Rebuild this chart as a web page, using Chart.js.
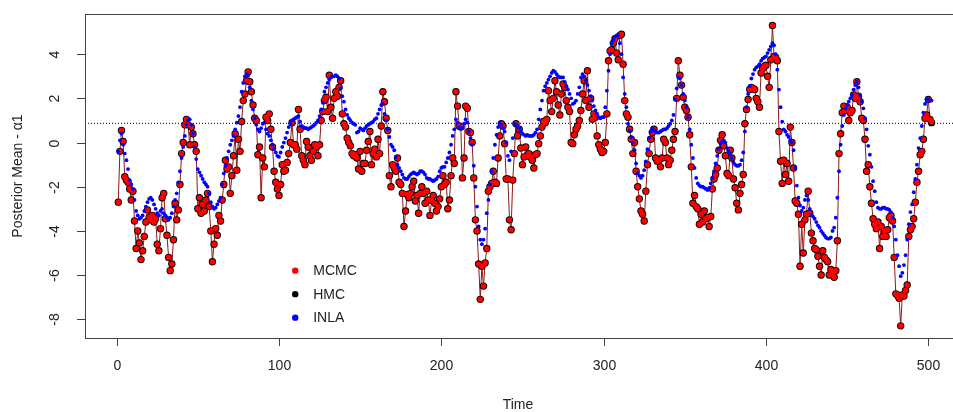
<!DOCTYPE html>
<html>
<head>
<meta charset="utf-8">
<script src="https://cdn.jsdelivr.net/npm/chart.js@4.4.1/dist/chart.umd.min.js"></script>
<style>
html,body{margin:0;padding:0;background:#fff;overflow:hidden;}
#wrap{width:968px;height:412px;}
</style>
</head>
<body>
<div id="wrap"><canvas id="c" width="968" height="412"></canvas></div>
<script>
// ---- data ----
const xTickLabels = [0, 100, 200, 300, 400, 500];
const yTickLabels = [-8, -6, -4, -2, 0, 2, 4];
const refLevel = 0.87;
const legendLabels = ['MCMC', 'HMC', 'INLA'];

const mcmc = [
-2.7,-0.4,0.55,0.05,-1.55,-1.7,-1.8,-2.1,-2.6,-2.2,
-3.55,-4.8,-4.0,-4.55,-5.3,-4.9,-4.25,-3.6,-3.05,-3.4,
-3.5,-3.3,-3.6,-3.45,-4.6,-4.9,-3.9,-2.5,-2.3,-3.45,
-4.2,-5.2,-5.8,-5.5,-4.4,-2.75,-3.5,-3.05,-1.9,-0.5,
0.0,0.8,1.05,0.8,-0.1,0.7,0.4,-0.1,-0.4,-3.0,
-2.5,-3.2,-2.8,-3.1,-2.6,-2.3,-2.9,-4.0,-5.4,-4.6,
-3.9,-4.2,-3.3,-3.55,-2.6,-1.9,-0.8,-1.2,-1.1,-2.3,
-1.5,-0.6,0.4,-1.25,0.15,-0.4,0.95,1.9,2.2,2.8,
3.2,2.75,2.3,1.7,1.1,1.0,-0.55,-0.2,-2.5,-0.7,
-1.1,1.15,1.0,1.3,0.6,-0.2,-1.3,-1.8,-2.1,-2.4,
-1.9,-1.0,-1.3,-1.25,-0.9,-0.5,0.0,0.9,-0.1,-0.1,
-0.3,1.5,0.6,-0.6,-0.8,-1.0,0.05,-0.2,-0.6,-0.8,
-0.4,-0.1,-0.2,-0.6,-0.1,1.0,1.4,1.9,2.05,1.4,
3.05,1.6,1.1,2.0,2.3,2.1,2.5,2.8,1.3,0.85,
0.7,0.2,0.0,-0.15,-0.5,-0.6,-0.55,-0.7,-1.2,-0.4,
-1.3,-0.95,-0.95,-0.35,0.05,0.5,-1.0,-0.5,-0.3,-0.65,
0.15,-0.5,0.75,2.3,1.85,1.1,0.55,-1.5,-2.0,-1.0,
-1.15,-1.3,-0.7,-1.8,-1.9,-2.3,-3.8,-3.1,-2.35,-2.5,
-2.3,-2.0,-1.75,-2.65,-2.4,-3.2,-2.3,-2.0,-2.3,-2.75,
-2.2,-2.6,-3.3,-2.6,-2.4,-2.75,-3.1,-2.9,-2.55,-2.0,
-1.5,-1.9,-1.8,-3.0,-2.6,-1.5,-0.7,-0.95,2.3,1.65,
0.75,0.7,-1.6,-0.7,1.65,1.55,0.5,0.45,0.0,-1.6,
-3.5,-4.0,-5.5,-7.1,-5.6,-6.5,-5.45,-4.8,-2.2,-2.0,
-1.85,-1.3,-1.8,-1.85,-0.7,0.3,0.85,0.75,-0.05,-1.65,
-1.65,-3.5,-3.95,-1.7,-0.5,0.85,0.3,0.6,-0.25,-1.0,
-0.65,-0.2,-0.6,-0.5,-0.65,-0.8,-1.15,-0.55,-0.5,-0.05,
0.3,0.7,0.95,0.9,1.05,2.35,1.9,1.4,2.0,2.8,
2.3,1.7,1.25,2.2,2.65,2.5,1.9,1.6,1.4,0.0,
-0.05,0.35,0.6,0.75,1.0,1.45,2.2,2.8,1.9,3.25,
1.6,2.0,1.05,1.3,1.15,0.3,-0.1,-0.3,-0.45,-0.4,
0.0,1.3,3.7,4.15,4.2,4.5,4.7,4.05,3.75,4.85,
4.9,3.55,1.9,1.3,1.15,0.6,0.15,-0.5,0.0,-1.3,
-2.0,-2.55,-3.1,-3.25,-3.55,-2.2,-1.0,-0.5,0.15,0.45,
0.6,-0.7,-0.85,-0.8,-1.1,-0.7,0.15,0.0,-0.7,-1.0,
-0.8,-0.35,0.15,0.5,2.0,3.7,3.05,2.6,2.05,1.6,
1.45,1.15,0.35,-1.1,-2.75,-2.4,-2.9,-3.0,-3.7,-3.25,
-3.6,-3.1,-3.45,-3.4,-3.8,-3.35,-2.1,-1.65,-1.45,-1.15,
-0.35,0.1,0.35,-0.15,-0.6,-1.4,-1.5,-0.35,-0.7,-1.65,
-2.05,-2.75,-3.05,-2.3,-1.9,-1.45,0.85,1.5,1.95,2.4,
2.5,2.45,2.4,2.0,1.85,1.6,3.15,3.35,3.45,3.5,
3.0,2.5,3.75,5.3,3.9,3.85,3.7,0.5,-0.85,-1.85,
-0.8,-1.45,-0.95,-1.75,0.7,0.0,-1.15,-2.65,-2.75,-3.25,
-5.6,-3.7,-5.0,-3.5,-3.25,-2.2,-3.2,-4.1,-4.45,-4.8,
-4.85,-5.15,-5.6,-6.0,-4.9,-5.2,-5.3,-5.4,-6.0,-5.75,
-5.95,-6.1,-5.8,-4.45,-0.5,0.4,1.35,1.65,1.45,1.6,
1.0,1.35,1.45,2.15,2.0,2.75,2.1,1.85,1.1,1.0,
0.15,-1.3,-1.0,-2.0,-2.75,-3.45,-3.7,-3.9,-3.6,-4.8,
-3.8,-4.25,-4.0,-4.25,-3.95,-3.4,-3.3,-3.55,-5.2,-6.85,
-6.9,-7.05,-8.3,-6.9,-6.95,-6.7,-6.45,-4.25,-3.95,-3.8,
-3.45,-2.7,-1.8,-1.3,-0.55,-0.4,0.15,1.1,1.25,1.95,
1.05,0.95
];

const hmc = [
-2.7,-0.4,0.55,0.05,-1.55,-1.7,-1.8,-2.1,-2.6,-2.2,
-3.55,-4.8,-4.0,-4.55,-5.3,-4.9,-4.25,-3.6,-3.05,-3.4,
-3.5,-3.3,-3.6,-3.45,-4.6,-4.9,-3.9,-2.5,-2.3,-3.45,
-4.2,-5.2,-5.8,-5.5,-4.4,-2.75,-3.5,-3.05,-1.9,-0.5,
0.0,0.8,1.05,0.8,-0.1,0.7,0.4,-0.1,-0.4,-3.0,
-2.5,-3.2,-2.8,-3.1,-2.6,-2.3,-2.9,-4.0,-5.4,-4.6,
-3.9,-4.2,-3.3,-3.55,-2.6,-1.9,-0.8,-1.2,-1.1,-2.3,
-1.5,-0.6,0.4,-1.25,0.15,-0.4,0.95,1.9,2.2,2.8,
3.2,2.75,2.3,1.7,1.1,1.0,-0.55,-0.2,-2.5,-0.7,
-1.1,1.15,1.0,1.3,0.6,-0.2,-1.3,-1.8,-2.1,-2.4,
-1.9,-1.0,-1.3,-1.25,-0.9,-0.5,0.0,0.9,-0.1,-0.1,
-0.3,1.5,0.6,-0.6,-0.8,-1.0,0.05,-0.2,-0.6,-0.8,
-0.4,-0.1,-0.2,-0.6,-0.1,1.0,1.4,1.9,2.05,1.4,
3.05,1.6,1.1,2.0,2.3,2.1,2.5,2.8,1.3,0.85,
0.7,0.2,0.0,-0.15,-0.5,-0.6,-0.55,-0.7,-1.2,-0.4,
-1.3,-0.95,-0.95,-0.35,0.05,0.5,-1.0,-0.5,-0.3,-0.65,
0.15,-0.5,0.75,2.3,1.85,1.1,0.55,-1.5,-2.0,-1.0,
-1.15,-1.3,-0.7,-1.8,-1.9,-2.3,-3.8,-3.1,-2.35,-2.5,
-2.3,-2.0,-1.75,-2.65,-2.4,-3.2,-2.3,-2.0,-2.3,-2.75,
-2.2,-2.6,-3.3,-2.6,-2.4,-2.75,-3.1,-2.9,-2.55,-2.0,
-1.5,-1.9,-1.8,-3.0,-2.6,-1.5,-0.7,-0.95,2.3,1.65,
0.75,0.7,-1.6,-0.7,1.65,1.55,0.5,0.45,0.0,-1.6,
-3.5,-4.0,-5.5,-7.1,-5.6,-6.5,-5.45,-4.8,-2.2,-2.0,
-1.85,-1.3,-1.8,-1.85,-0.7,0.3,0.85,0.75,-0.05,-1.65,
-1.65,-3.5,-3.95,-1.7,-0.5,0.85,0.3,0.6,-0.25,-1.0,
-0.65,-0.2,-0.6,-0.5,-0.65,-0.8,-1.15,-0.55,-0.5,-0.05,
0.3,0.7,0.95,0.9,1.05,2.35,1.9,1.4,2.0,2.8,
2.3,1.7,1.25,2.2,2.65,2.5,1.9,1.6,1.4,0.0,
-0.05,0.35,0.6,0.75,1.0,1.45,2.2,2.8,1.9,3.25,
1.6,2.0,1.05,1.3,1.15,0.3,-0.1,-0.3,-0.45,-0.4,
0.0,1.3,3.7,4.15,4.2,4.5,4.7,4.05,3.75,4.85,
4.9,3.55,1.9,1.3,1.15,0.6,0.15,-0.5,0.0,-1.3,
-2.0,-2.55,-3.1,-3.25,-3.55,-2.2,-1.0,-0.5,0.15,0.45,
0.6,-0.7,-0.85,-0.8,-1.1,-0.7,0.15,0.0,-0.7,-1.0,
-0.8,-0.35,0.15,0.5,2.0,3.7,3.05,2.6,2.05,1.6,
1.45,1.15,0.35,-1.1,-2.75,-2.4,-2.9,-3.0,-3.7,-3.25,
-3.6,-3.1,-3.45,-3.4,-3.8,-3.35,-2.1,-1.65,-1.45,-1.15,
-0.35,0.1,0.35,-0.15,-0.6,-1.4,-1.5,-0.35,-0.7,-1.65,
-2.05,-2.75,-3.05,-2.3,-1.9,-1.45,0.85,1.5,1.95,2.4,
2.5,2.45,2.4,2.0,1.85,1.6,3.15,3.35,3.45,3.5,
3.0,2.5,3.75,5.3,3.9,3.85,3.7,0.5,-0.85,-1.85,
-0.8,-1.45,-0.95,-1.75,0.7,0.0,-1.15,-2.65,-2.75,-3.25,
-5.6,-3.7,-5.0,-3.5,-3.25,-2.2,-3.2,-4.1,-4.45,-4.8,
-4.85,-5.15,-5.6,-6.0,-4.9,-5.2,-5.3,-5.4,-6.0,-5.75,
-5.95,-6.1,-5.8,-4.45,-0.5,0.4,1.35,1.65,1.45,1.6,
1.0,1.35,1.45,2.15,2.0,2.75,2.1,1.85,1.1,1.0,
0.15,-1.3,-1.0,-2.0,-2.75,-3.45,-3.7,-3.9,-3.6,-4.8,
-3.8,-4.25,-4.0,-4.25,-3.95,-3.4,-3.3,-3.55,-5.2,-6.85,
-6.9,-7.05,-8.3,-6.9,-6.95,-6.7,-6.45,-4.25,-3.95,-3.8,
-3.45,-2.7,-1.8,-1.3,-0.55,-0.4,0.15,1.1,1.25,1.95,
1.05,0.9
];

const inla = [
-0.4,0.1,0.4,-0.1,-0.5,-0.8,-1.2,-1.7,-1.9,-2.1,
-2.6,-3.1,-3.3,-3.45,-3.4,-3.3,-3.1,-2.9,-2.7,-2.55,
-2.5,-2.6,-2.8,-3.0,-3.2,-3.3,-3.1,-3.0,-3.2,-3.3,
-3.4,-3.5,-3.4,-3.2,-2.9,-2.6,-2.3,-1.8,-1.3,-0.7,
-0.2,0.3,0.8,1.0,1.05,0.8,0.4,-0.2,-0.75,-1.2,
-1.35,-1.5,-1.65,-1.8,-1.9,-2.0,-2.3,-2.7,-2.9,-3.0,
-2.95,-2.8,-2.65,-2.5,-1.9,-1.4,-1.05,-0.7,-0.4,-0.1,
0.1,0.3,0.6,0.9,1.2,1.6,2.3,2.7,3.0,3.1,
3.05,2.5,1.9,1.5,1.1,0.8,0.6,0.5,0.65,0.85,
0.9,0.6,0.4,0.3,0.1,-0.1,-0.3,-0.45,-0.6,-0.65,
-0.45,-0.2,0.0,0.2,0.45,0.7,0.85,1.0,1.05,1.1,
1.15,1.2,0.95,0.75,0.7,0.65,0.65,0.6,0.65,0.7,
0.75,0.8,0.9,1.0,1.2,1.5,1.8,2.3,2.5,2.7,
2.85,2.95,3.0,3.0,3.05,3.0,2.9,2.45,2.1,1.85,
1.5,1.25,1.1,1.0,0.9,0.85,0.8,0.45,0.5,0.65,
0.6,0.55,0.65,0.75,0.8,0.85,0.9,0.95,1.05,1.1,
1.3,1.5,1.7,1.75,1.3,1.0,0.6,0.25,-0.1,-0.2,
-0.35,-0.65,-1.0,-1.15,-1.3,-1.45,-1.6,-1.65,-1.65,-1.55,
-1.45,-1.4,-1.35,-1.4,-1.45,-1.4,-1.3,-1.3,-1.35,-1.45,
-1.6,-1.65,-1.65,-1.7,-1.75,-1.7,-1.65,-1.55,-1.3,-1.15,
-1.1,-1.1,-0.9,-0.7,-0.45,-0.1,0.3,0.6,1.05,0.9,
0.7,0.65,0.65,0.85,1.05,0.9,0.5,0.2,-0.1,-1.05,
-2.0,-2.9,-3.8,-4.4,-4.6,-4.4,-3.9,-3.2,-2.6,-1.9,
-1.3,-0.7,-0.1,0.35,0.7,0.9,0.8,0.65,0.5,0.0,
-0.6,-0.8,-0.4,0.2,0.85,0.8,0.75,0.65,0.5,0.4,
0.35,0.3,0.35,0.3,0.3,0.3,0.35,0.45,0.6,1.05,
1.5,1.9,2.35,2.55,2.7,2.85,3.0,3.15,3.25,3.2,
3.1,3.0,2.95,2.95,2.95,2.75,2.55,2.4,2.2,2.0,
1.75,1.8,1.9,2.2,2.5,2.95,3.1,3.0,2.8,2.6,
2.35,2.1,1.9,1.65,1.45,1.3,1.15,1.1,1.15,1.15,
1.6,2.35,3.25,4.0,4.5,4.65,4.8,4.85,4.85,4.5,
4.0,2.95,2.2,1.6,0.85,0.55,0.25,0.0,-0.35,-0.95,
-1.4,-1.5,-1.6,-1.5,-1.25,-0.85,-0.3,0.2,0.5,0.65,
0.55,0.5,0.45,0.45,0.5,0.55,0.6,0.6,0.65,0.75,
0.85,1.0,1.25,1.95,2.45,2.95,2.9,2.6,2.2,1.9,
1.6,1.15,0.6,-0.1,-0.7,-1.15,-1.6,-1.85,-1.95,-2.0,
-2.0,-2.05,-2.1,-2.15,-2.05,-1.85,-1.6,-1.3,-0.95,-0.6,
-0.3,-0.05,0.05,0.1,0.0,-0.25,-0.4,-0.5,-0.7,-0.9,
-1.0,-1.05,-1.05,-1.0,-0.8,-0.45,0.5,1.6,2.2,2.55,
2.9,3.1,3.3,3.4,3.45,3.55,3.7,3.8,3.85,3.9,
4.05,4.2,4.35,4.5,4.4,4.0,3.3,2.4,1.6,0.95,
0.6,0.5,0.35,0.25,0.1,0.0,-0.35,-1.15,-1.95,-2.5,
-2.85,-3.1,-2.95,-2.6,-2.4,-2.6,-3.0,-3.25,-3.35,-3.45,
-3.6,-3.75,-3.85,-4.0,-4.1,-4.2,-4.3,-4.35,-4.35,-4.3,
-4.0,-3.85,-3.4,-2.5,-1.3,-0.1,0.75,1.25,1.55,1.7,
1.85,2.0,2.15,2.4,2.6,2.75,2.5,2.15,1.85,1.55,
1.1,0.6,-0.15,-0.55,-1.1,-1.75,-2.2,-2.7,-2.95,-3.0,
-3.0,-2.95,-2.95,-3.0,-3.0,-3.05,-3.15,-3.4,-3.8,-4.4,
-5.1,-5.6,-6.05,-5.9,-5.55,-5.1,-4.4,-3.7,-3.15,-2.8,
-2.25,-1.65,-1.0,-0.25,0.2,0.75,1.35,1.75,1.95,1.95,
1.9,1.9
];

// time index of each observation
const time = mcmc.map((_, i) => i + 1);

// ---- build chart ----
const toXY = arr => arr.map((v, i) => ({x: time[i], y: v}));
const FONT = '"Liberation Sans", Arial, Helvetica, sans-serif';
const XMIN = -19.5, XMAX = 522, YMIN = -8.85, YMAX = 5.82;

const colors = {MCMC: '#ff0000', HMC: '#000000', INLA: '#0000ff'};

const rStyle = {
  id: 'rStyle',
  afterDatasetsDraw(chart) {
    const {ctx, chartArea: a, scales: {x, y}} = chart;
    ctx.save();
    // box
    ctx.strokeStyle = '#444';
    ctx.lineWidth = 1;
    ctx.strokeRect(Math.round(a.left) + 0.5, Math.round(a.top) + 0.5,
                   Math.round(a.right - a.left), Math.round(a.bottom - a.top));
    ctx.fillStyle = '#222';
    ctx.font = '14px ' + FONT;
    ctx.textAlign = 'center';
    ctx.textBaseline = 'middle';
    // x ticks
    xTickLabels.forEach(v => {
      const px = Math.round(x.getPixelForValue(v)) + 0.5;
      ctx.beginPath();
      ctx.moveTo(px, Math.round(a.bottom));
      ctx.lineTo(px, Math.round(a.bottom) + 8);
      ctx.stroke();
      ctx.fillText(String(v), px, a.bottom + 28);
    });
    // y ticks (rotated labels, R style)
    yTickLabels.forEach(v => {
      const py = Math.round(y.getPixelForValue(v)) + 0.5;
      ctx.beginPath();
      ctx.moveTo(Math.round(a.left) - 8, py);
      ctx.lineTo(Math.round(a.left), py);
      ctx.stroke();
      ctx.save();
      ctx.translate(a.left - 30, py);
      ctx.rotate(-Math.PI / 2);
      ctx.fillText(String(v), 0, 0);
      ctx.restore();
    });
    // axis titles
    ctx.fillText('Time', 518, 405);
    ctx.save();
    ctx.translate(18, (a.top + a.bottom) / 2);
    ctx.rotate(-Math.PI / 2);
    ctx.fillText('Posterior Mean - \u03b11', 0, 0);
    ctx.restore();
    // legend (no box), anchored in data coordinates
    const lx = x.getPixelForValue(110);
    const ly = y.getPixelForValue(-5.8);
    ctx.textAlign = 'left';
    legendLabels.forEach((lab, i) => {
      const yy = ly + i * 23.5;
      ctx.beginPath();
      ctx.fillStyle = colors[lab];
      ctx.arc(lx, yy, 3.2, 0, Math.PI * 2);
      ctx.fill();
      ctx.fillStyle = '#222';
      ctx.fillText(lab, lx + 18, yy + 1);
    });
    ctx.restore();
  }
};

new Chart(document.getElementById('c'), {
  type: 'scatter',
  data: {
    datasets: [
      {label: 'INLA', data: toXY(inla), pointRadius: 1.9, pointBackgroundColor: colors.INLA,
       pointBorderWidth: 0, showLine: false, order: 1},
      {label: 'MCMC', data: toXY(mcmc), pointRadius: 2.8, pointBackgroundColor: colors.MCMC,
       pointBorderWidth: 0, showLine: false, order: 2},
      {label: 'HMC', data: toXY(hmc), pointRadius: 3.7, pointBackgroundColor: colors.HMC,
       pointBorderWidth: 0, showLine: false, order: 3},
      {label: 'MCMC path', data: toXY(mcmc), pointRadius: 0, showLine: true,
       borderColor: '#8b1a1a', borderWidth: 1, tension: 0, order: 4},
      {label: 'reference', data: [{x: XMIN, y: refLevel}, {x: XMAX, y: refLevel}], pointRadius: 0,
       showLine: true, borderColor: '#000', borderWidth: 1, borderDash: [1, 2], order: 5}
    ]
  },
  options: {
    responsive: false,
    animation: false,
    devicePixelRatio: 1,
    layout: {padding: {left: 85, top: 14, right: 2, bottom: 74}},
    plugins: {legend: {display: false}, tooltip: {enabled: false}},
    scales: {
      x: {type: 'linear', min: XMIN, max: XMAX, display: false},
      y: {type: 'linear', min: YMIN, max: YMAX, display: false}
    }
  },
  plugins: [rStyle]
});
</script>
</body>
</html>
